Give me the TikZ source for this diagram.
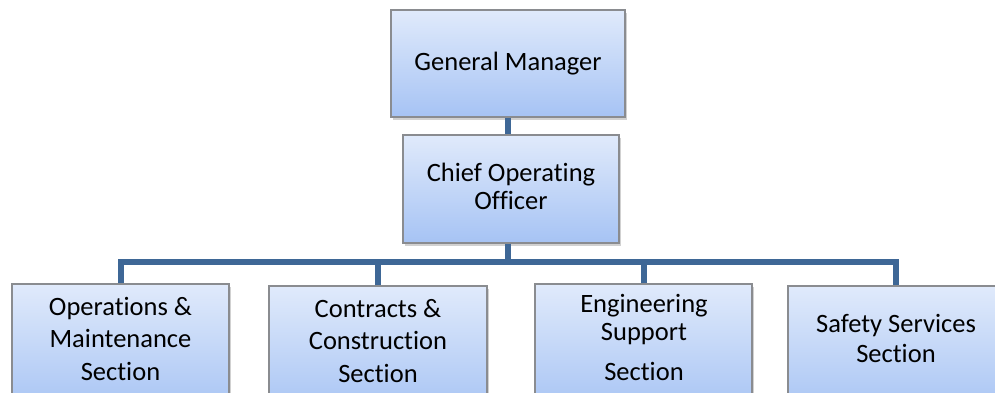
\documentclass[tikz,border=0pt]{standalone}
\usepackage{fontspec}
\setmainfont{Carlito}[Ligatures={NoCommon}]
\usetikzlibrary{shadows}
\definecolor{boxtop}{HTML}{E0EAFB}
\definecolor{boxbot}{HTML}{A6C3F4}
\definecolor{boxline}{HTML}{8A8C90}
\definecolor{connc}{HTML}{3E6796}
\tikzset{
  orgbox/.style={draw=boxline, line width=1.2pt, top color=boxtop, bottom color=boxbot,
    rectangle, inner sep=0pt,
    drop shadow={shadow xshift=2pt, shadow yshift=-3pt, opacity=0.3, fill=black!60}},
  lbl/.style={align=center, inner sep=0pt, text=black},
  conn/.style={draw=connc, line width=6pt}
}
\begin{document}
\begin{tikzpicture}[x=1pt, y=-1pt]
\useasboundingbox (0,0) rectangle (995,392);
\clip (0,0) rectangle (995,392);
% boxes
\node[orgbox, minimum width=234pt, minimum height=107pt] (gm) at (508,63.5) {};
\node[orgbox, minimum width=216pt, minimum height=108pt] (coo) at (511,189) {};
\node[orgbox, minimum width=217pt, minimum height=130pt] (ops) at (120.5,349) {};
\node[orgbox, minimum width=218pt, minimum height=130pt] (con) at (378,351) {};
\node[orgbox, minimum width=217pt, minimum height=130pt] (eng) at (643.5,349) {};
\node[orgbox, minimum width=216pt, minimum height=130pt] (saf) at (896,351) {};
% labels
\node[lbl, font=\fontsize{26.5}{31}\selectfont] (gmT) at (508,64.5) {\strut General Manager};
\node[lbl, font=\fontsize{26.5}{28}\selectfont] (cooT) at (511,{(181.5+209.5)/2-5.6}) {\strut Chief Operating\\\strut Officer};
\node[lbl, font=\fontsize{26.5}{32.5}\selectfont] (opsT) at (120.5,{(315+380)/2-6.5}) {\strut Operations \&\\\strut Maintenance\\\strut Section};
\node[lbl, font=\fontsize{26.5}{32.5}\selectfont] (conT) at (378,{(317+382)/2-6.5}) {\strut Contracts \&\\\strut Construction\\\strut Section};
\node[lbl, font=\fontsize{26.5}{28}\selectfont] (engT) at (644,{(312+380)/2-5.6}) {\strut Engineering\\\strut Support\\[12pt]\strut Section};
\node[lbl, font=\fontsize{26.5}{30}\selectfont] (safT) at (896,{(332+362)/2-6}) {\strut Safety Services\\\strut Section};
% connectors
\coordinate (bus) at (508,262);
\draw[conn] (gm.south) -- (gm.south |- coo.north);
\draw[conn] (coo.south -| bus) -- (bus);
\draw[conn] (ops.north) -- (ops.north |- bus) -- (saf.north |- bus) -- (saf.north);
\draw[conn] (con.north) -- (con.north |- bus);
\draw[conn] (eng.north) -- (eng.north |- bus);
\end{tikzpicture}
\end{document}
